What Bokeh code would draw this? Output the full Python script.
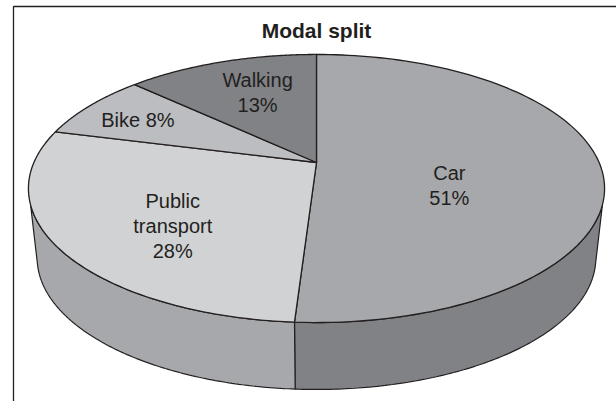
import numpy as np
from bokeh.plotting import figure
from bokeh.models import Range1d
from bokeh.core.properties import value
from bokeh.embed import file_html
from bokeh.resources import INLINE

# ---- data ----
categories = ["Car", "Public transport", "Bike", "Walking"]
shares = [51, 28, 8, 13]
label_texts = ["Car\n51%", "Public\ntransport\n28%", "Bike  8%", "Walking\n13%"]
title_text = "Modal split"

# ---- styling / geometry ----
top_colors = ["#a7a8ab", "#d1d2d4", "#bcbdc0", "#808285"]
side_colors = ["#808285", "#a7a8ab"]
ink = "#231f20"
W, H = 616, 401
TILT = 0.194            # perspective strength
TOP = dict(cx=316, cy=162, ax=282.6, ay=129)
BASE = dict(cx=316, cy=232, ax=274.0, ay=126.5)
label_disk = [(0.454, 0.175), (-0.464, 0.452), (-0.665, -0.355), (-0.233, -0.607)]
left_edge_top, left_edge_base = 252, 255.5    # silhouette angles, degrees clockwise from 12 o'clock
right_edge_top, right_edge_base = 108, 104.5


def project(u, v, g):
    w = 1 - TILT * np.asarray(v)
    return g["cx"] + g["ax"] * np.asarray(u) / w, g["cy"] + g["ay"] * np.asarray(v) / w


def rim(a0, a1, g, n=120):
    t = np.radians(np.linspace(a0, a1, n))
    return project(np.sin(t), -np.cos(t), g)


edges = np.concatenate([[0], np.cumsum(shares)]) * 360.0 / sum(shares)
split = edges[1]  # boundary between the two visible side walls

p = figure(width=W, height=H, toolbar_location=None, output_backend="svg",
           x_range=Range1d(0, W), y_range=Range1d(H, 0), min_border=0,
           background_fill_color="white", border_fill_color="white", outline_line_color=None)
p.axis.visible = False
p.grid.visible = False

# frame
p.line([13, 13, W], [H, 6, 6], line_color=ink, line_width=1.3)

# side walls
wall_xs, wall_ys = [], []
for (a0, a1, b0, b1) in [(right_edge_top, split, split, right_edge_base),
                         (split, left_edge_top, left_edge_base, split)]:
    tx, ty = rim(a0, a1, TOP)
    bx, by = rim(b0, b1, BASE)
    wall_xs.append(np.concatenate([tx, bx]).tolist())
    wall_ys.append(np.concatenate([ty, by]).tolist())
p.patches(wall_xs, wall_ys, fill_color=side_colors, line_color=ink, line_width=1.2)

# top slices
cx0, cy0 = project(0.0, 0.0, TOP)
xs, ys = [], []
for a0, a1 in zip(edges[:-1], edges[1:]):
    tx, ty = rim(a0, a1, TOP)
    xs.append([float(cx0)] + tx.tolist())
    ys.append([float(cy0)] + ty.tolist())
p.patches(xs, ys, fill_color=top_colors, line_color=ink, line_width=1.3, line_join="round")

# labels
lx, ly = zip(*[project(u, v, TOP) for u, v in label_disk])
p.text(x=[float(a) for a in lx], y=[float(b) for b in ly], text=label_texts,
       text_align="center", text_baseline="middle", text_font=value("Liberation Sans"),
       text_font_size="20px", text_color=ink, text_line_height=1.14)
p.text(x=[316], y=[30], text=[title_text], text_align="center", text_baseline="middle",
       text_font=value("Liberation Sans"), text_font_style="bold", text_font_size="21px",
       text_color=ink)

open("out.html", "w").write(file_html(p, INLINE))
